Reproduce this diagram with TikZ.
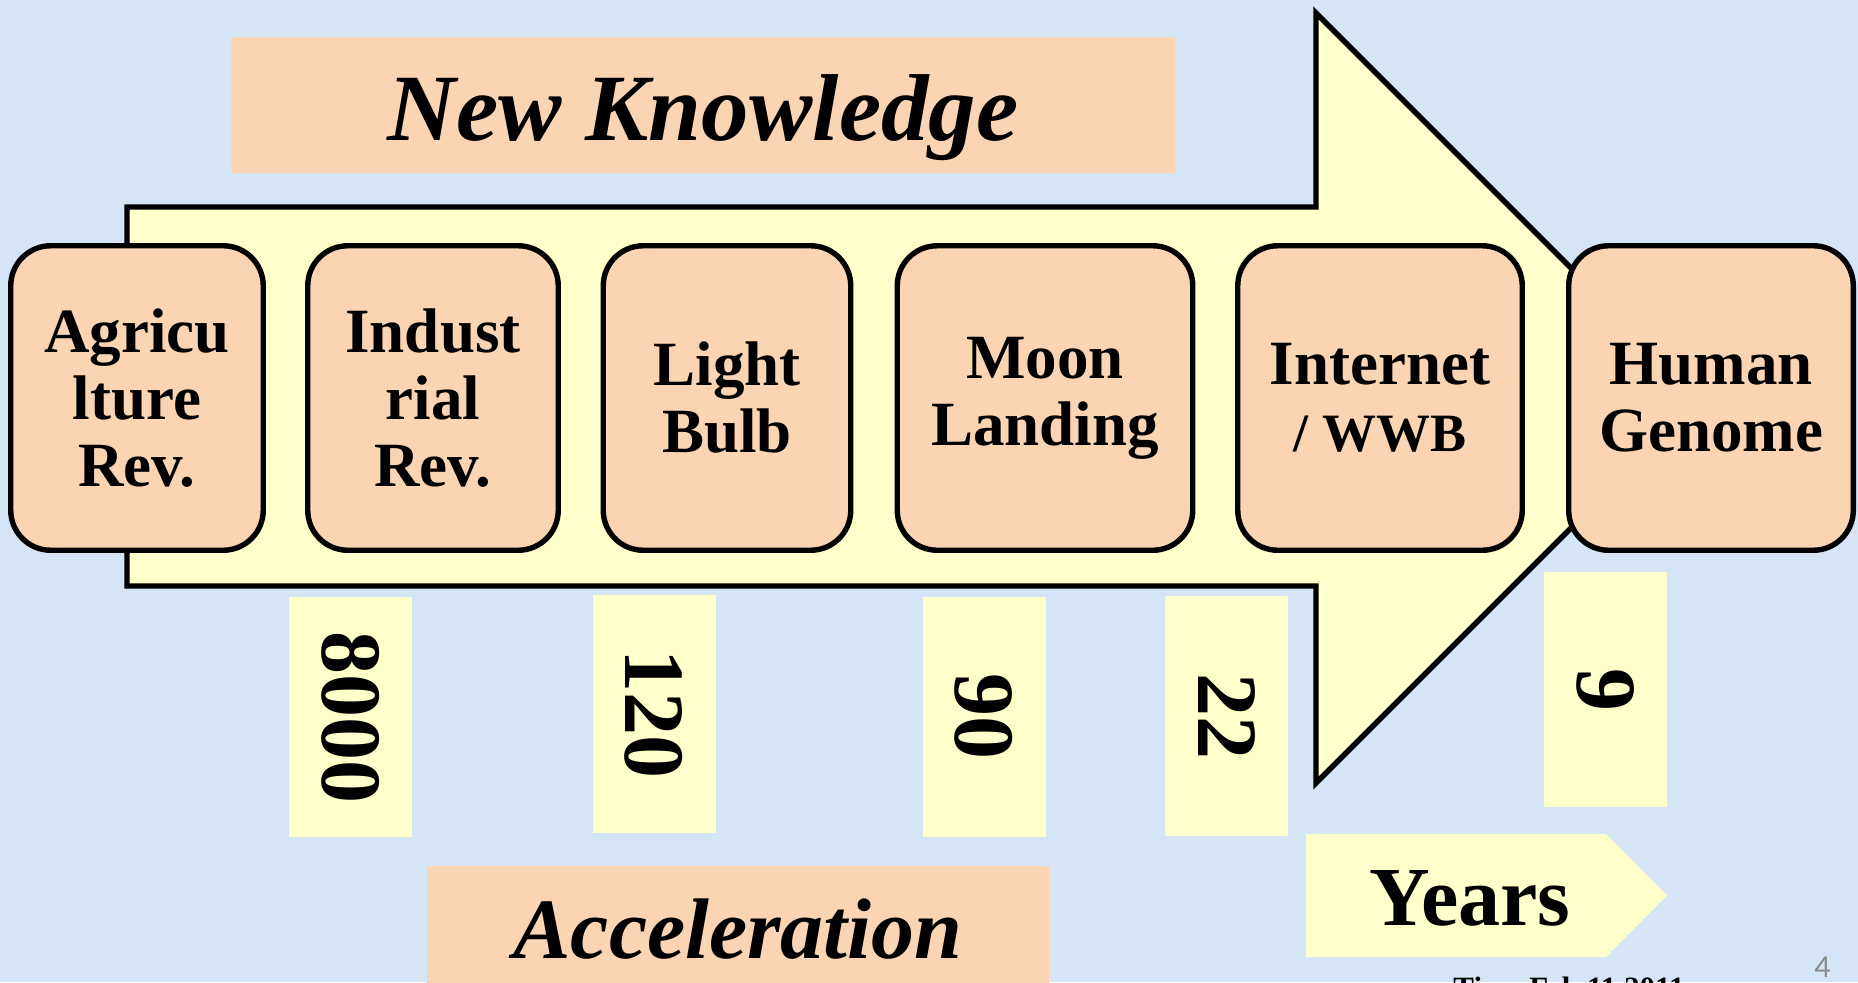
\documentclass[tikz,border=0pt]{standalone}
\usepackage{fontspec}
\setmainfont{Liberation Serif}
\newfontfamily\pagefont{Carlito}
\definecolor{bgblue}{RGB}{213,229,246}
\definecolor{peach}{RGB}{251,212,180}
\definecolor{cream}{RGB}{255,255,204}
\definecolor{pagegray}{RGB}{140,140,140}
\begin{document}
\begin{tikzpicture}[x=0.5pt,y=-0.5pt,
  outline/.style={draw=black,line width=2.7pt},
  evbox/.style={outline,fill=peach,rounded corners=20pt,inner sep=0pt,align=center,
    font=\fontsize{31.5}{33.5}\selectfont\bfseries,minimum height=152.25pt},
  numbox/.style={fill=cream,inner sep=0pt,minimum width=61.5pt,minimum height=120pt},
  numtext/.style={rotate=-90,inner sep=0pt,font=\fontsize{43}{43}\selectfont\bfseries},
  titlebox/.style={fill=peach,inner sep=0pt},
  titletext/.style={anchor=base,inner sep=0pt,font=\fontsize{47.5}{47.5}\selectfont\bfseries\itshape},
  yearstext/.style={anchor=base,inner sep=0pt,font=\fontsize{42}{42}\selectfont\bfseries}
]
\useasboundingbox (0,0) rectangle (1858,982);
\fill[bgblue] (0,0) rectangle (1858,982);

% title box
\node[titlebox,minimum width=472pt,minimum height=68pt] (nkbox) at (703,105) {};
\node[titletext] (nk) at (703,140) {New Knowledge};

% main arrow
\draw[outline,fill=cream,line join=miter]
  (127,207) -- (1316,207) -- (1316,13) -- (1701,398) -- (1316,783)
  -- (1316,586) -- (127,586) -- cycle;

% event boxes
\node[evbox,minimum width=126.25pt] (agr) at (137,398) {Agricu\\lture\\Rev.};
\node[evbox,minimum width=125.25pt] (ind) at (433,398) {Indust\\rial\\Rev.};
\node[evbox,minimum width=123.75pt] (bulb) at (727,398) {Light\\Bulb};
\node[evbox,minimum width=147.75pt] (moon) at (1045,398) {Moon\\Landing};
\node[evbox,minimum width=142.25pt] (web) at (1380,398) {Internet\\{\fontsize{27}{33.5}\selectfont / WWB}};
\node[evbox,minimum width=142.3pt] (gen) at (1711,398) {Human\\Genome};

% number boxes
\node[numbox] (b1) at (350.5,717) {};
\node[numtext] (t1) at (b1.center) {8000};
\node[numbox,minimum height=119pt] (b2) at (654,714) {};
\node[numtext] (t2) at (b2.center) {120};
\node[numbox] (b3) at (984,716.5) {};
\node[numtext] (t3) at (b3.center) {90};
\node[numbox] (b4) at (1226.5,716) {};
\node[numtext] (t4) at (b4.center) {22};
\node[numbox,minimum height=117.5pt] (b5) at (1605.5,689.5) {};
\node[numtext] (t5) at (b5.center) {9};

% Years pointer
\fill[cream] (1306,834) -- (1606,834) -- (1667,895.5) -- (1606,957) -- (1306,957) -- cycle;
\node[yearstext] (years) at (1470,925) {Years};

% Acceleration box
\node[titlebox,minimum width=311pt,minimum height=62pt] (accbox) at (738,928) {};
\node[titletext,font=\fontsize{43}{43}\selectfont\bfseries\itshape] (acc) at (738,958) {Acceleration};

% footer
\node[anchor=base west,inner sep=0pt,font=\fontsize{15.5}{15.5}\selectfont\bfseries] (date) at (1453,998) {Time Feb 11 2011};
\node[anchor=base west,inner sep=0pt,text=pagegray,font=\pagefont\fontsize{16}{16}\selectfont] (page) at (1814,977) {4};
\end{tikzpicture}
\end{document}
